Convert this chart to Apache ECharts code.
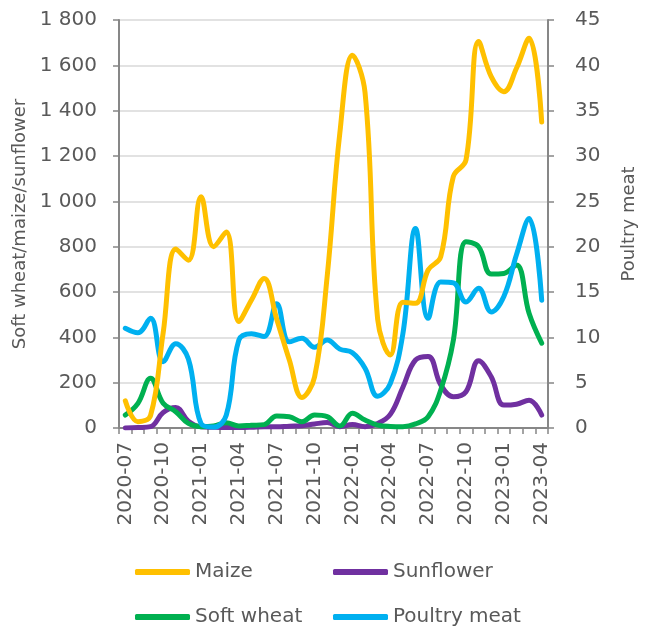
<!DOCTYPE html>
<html>
<head>
<meta charset="utf-8">
<script src="https://cdn.jsdelivr.net/npm/echarts@6/dist/echarts.min.js"></script>
<style>
  html, body { margin: 0; padding: 0; background: #fff; }
  #chart { width: 646px; height: 626px; }
</style>
</head>
<body>
<div id="chart"></div>
<script>
// months 2020-07 .. 2023-04
var months = ['2020-07','2020-08','2020-09','2020-10','2020-11','2020-12',
  '2021-01','2021-02','2021-03','2021-04','2021-05','2021-06',
  '2021-07','2021-08','2021-09','2021-10','2021-11','2021-12',
  '2022-01','2022-02','2022-03','2022-04','2022-05','2022-06',
  '2022-07','2022-08','2022-09','2022-10','2022-11','2022-12',
  '2023-01','2023-02','2023-03','2023-04'];

var maize = [120, 28, 55, 420, 790, 740, 1020, 800, 865, 470, 565, 660,
  480, 300, 135, 225, 670, 1300, 1645, 1480, 480, 322, 555, 550,
  697, 756, 1110, 1182, 1705, 1550, 1484, 1587, 1719, 1350];

var sunflower = [0, 2, 6, 68, 90, 30, 5, 3, 2, 2, 3, 5,
  5, 8, 10, 18, 24, 6, 15, 6, 20, 60, 180, 300,
  315, 190, 138, 160, 297, 226, 101, 105, 122, 57];

var softWheat = [57, 109, 219, 109, 72, 20, 6, 9, 23, 9, 12, 15,
  53, 50, 28, 57, 50, 9, 65, 35, 13, 7, 6, 18,
  50, 168, 388, 822, 800, 679, 682, 719, 506, 374];

var poultry = [11.0, 10.5, 12.1, 7.3, 9.3, 7.6, 0.5, 0.1, 1.4, 9.7, 10.4, 10.1,
  13.7, 9.5, 9.9, 8.9, 9.7, 8.7, 8.3, 6.6, 3.5, 4.9, 10.4, 22.0,
  12.1, 16.1, 16.0, 13.9, 15.4, 12.8, 14.5, 19.1, 23.1, 14.1];

var leftTicks = { min: 0, max: 1800, interval: 200 };
var rightTicks = { min: 0, max: 45, interval: 5 };

var font = 'DejaVu Sans';
var txt = '#595959';
var axisGray = '#878787';

function spaced(v) {
  return String(v).replace(/\B(?=(\d{3})+(?!\d))/g, ' ');
}

function lineSeries(name, data, color, axis) {
  return {
    name: name,
    type: 'line',
    yAxisIndex: axis,
    data: data,
    smooth: 0.4,
    symbol: 'none',
    lineStyle: { color: color, width: 5, cap: 'round', join: 'round' },
    itemStyle: { color: color }
  };
}

function legendItem(name, left, top) {
  return {
    data: [name],
    left: left,
    top: top,
    padding: 0,
    itemWidth: 55,
    itemHeight: 6,
    icon: 'roundRect',
    textStyle: { fontFamily: font, fontSize: 20, color: txt }
  };
}

var chart = echarts.init(document.getElementById('chart'), null, { renderer: 'canvas' });

var option = {
  animation: false,
  backgroundColor: '#fff',
  textStyle: { fontFamily: font },
  grid: { left: 119, right: 85, top: 20, bottom: 198, containLabel: false },
  legend: [
    legendItem('Maize', 135, 562),
    legendItem('Sunflower', 333, 562),
    legendItem('Soft wheat', 135, 607),
    legendItem('Poultry meat', 333, 607)
  ],
  xAxis: {
    type: 'category',
    data: months,
    boundaryGap: true,
    axisLine: { lineStyle: { color: axisGray, width: 2 } },
    axisTick: { show: true, interval: 0, length: 6, lineStyle: { color: axisGray, width: 1.5 } },
    axisLabel: {
      interval: 2,
      rotate: 90,
      margin: 14,
      fontFamily: font,
      fontSize: 20,
      color: txt
    },
    splitLine: { show: false }
  },
  yAxis: [
    {
      type: 'value',
      min: leftTicks.min,
      max: leftTicks.max,
      interval: leftTicks.interval,
      name: 'Soft wheat/maize/sunflower',
      nameLocation: 'middle',
      nameGap: 88,
      nameTextStyle: { fontFamily: font, fontSize: 18, color: txt },
      axisLine: { show: true, lineStyle: { color: axisGray, width: 2 } },
      axisTick: { show: true, length: 6, lineStyle: { color: axisGray, width: 1.5 } },
      axisLabel: { margin: 22, fontFamily: font, fontSize: 20, color: txt, formatter: spaced },
      splitLine: { show: true, lineStyle: { color: '#D9D9D9', width: 1.5 } }
    },
    {
      type: 'value',
      position: 'right',
      min: rightTicks.min,
      max: rightTicks.max,
      interval: rightTicks.interval,
      name: 'Poultry meat',
      nameLocation: 'middle',
      nameGap: 72,
      nameTextStyle: { fontFamily: font, fontSize: 18, color: txt },
      axisLine: { show: true, lineStyle: { color: axisGray, width: 2 } },
      axisTick: { show: true, length: 6, lineStyle: { color: axisGray, width: 1.5 } },
      axisLabel: { margin: 27, fontFamily: font, fontSize: 20, color: txt },
      splitLine: { show: false }
    }
  ],
  series: [
    lineSeries('Sunflower', sunflower, '#7030A0', 0),
    lineSeries('Soft wheat', softWheat, '#00B050', 0),
    lineSeries('Poultry meat', poultry, '#00B0F0', 1),
    lineSeries('Maize', maize, '#FFC000', 0)
  ]
};

chart.setOption(option);
</script>
</body>
</html>
